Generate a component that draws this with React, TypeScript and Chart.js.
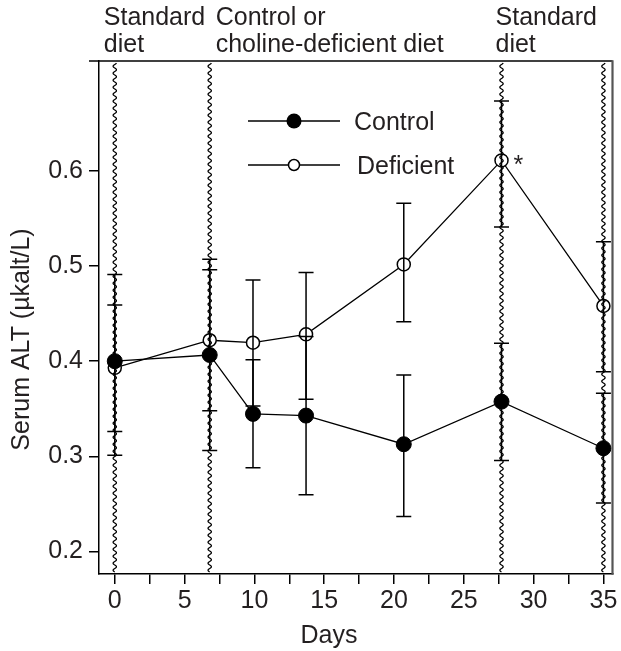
import React, { useEffect, useRef } from "react";
import { Chart, registerables } from "chart.js";

Chart.register(...registerables);

// ---- data ----
const days = [0, 6.8, 9.9, 13.7, 20.7, 27.7, 35];
const controlMean = [0.4, 0.4065, 0.3446, 0.3428, 0.3127, 0.3575, 0.3085];
const controlLow = [0.301, 0.306, 0.288, 0.2595, 0.2367, 0.2955, 0.2508];
const controlHigh = [0.491, 0.507, 0.4016, 0.426, 0.3855, 0.4188, 0.3663];
const deficientMean = [0.393, 0.422, 0.4194, 0.4282, 0.5017, 0.611, 0.458];
const deficientLow = [0.326, 0.348, 0.353, 0.36, 0.4415, 0.541, 0.389];
const deficientHigh = [0.459, 0.496, 0.4853, 0.4933, 0.566, 0.6735, 0.5255];
const dietChangeDays = [0, 6.8, 27.7, 35];
const phaseAnchorDays = [0, 6.8, 27.7];
const phaseLabels = [
  ["Standard", "diet"],
  ["Control or", "choline-deficient diet"],
  ["Standard", "diet"],
];
const significantIndex = [5];
const xTickValues = [0, 2.5, 5, 7.5, 10, 12.5, 15, 17.5, 20, 22.5, 25, 27.5, 30, 32.5, 35];
const yTickValues = [0.2, 0.3, 0.4, 0.5, 0.6];
const seriesNames = ["Control", "Deficient"];
const xTitle = "Days";
const yTitle = "Serum ALT (\u00b5kalt/L)";

const FONT = '"Liberation Sans", Arial, Helvetica, sans-serif';
const TEXT = "#231f20";

export default function App() {
  const ref = useRef<HTMLCanvasElement>(null);

  useEffect(() => {
    const canvas = ref.current;
    if (!canvas) return;

    const phaseOffsets = [-11, 6, -6];

    const decor = {
      id: "decor",
      afterDatasetsDraw(chart: any) {
        const ctx = chart.ctx as CanvasRenderingContext2D;
        const xs = chart.scales.x;
        const ys = chart.scales.y;
        const { left, right, top, bottom } = chart.chartArea;
        ctx.save();

        // error bars
        const drawBars = (lows: number[], highs: number[]) => {
          ctx.strokeStyle = "#000";
          ctx.lineWidth = 1.5;
          for (let i = 0; i < days.length; i++) {
            const x = xs.getPixelForValue(days[i]);
            const yl = ys.getPixelForValue(lows[i]);
            const yh = ys.getPixelForValue(highs[i]);
            ctx.beginPath();
            ctx.moveTo(x, yl);
            ctx.lineTo(x, yh);
            ctx.moveTo(x - 7.5, yl);
            ctx.lineTo(x + 7.5, yl);
            ctx.moveTo(x - 7.5, yh);
            ctx.lineTo(x + 7.5, yh);
            ctx.stroke();
          }
        };
        drawBars(controlLow, controlHigh);
        drawBars(deficientLow, deficientHigh);

        // wavy diet-change lines
        ctx.lineWidth = 1.2;
        ctx.strokeStyle = "#000";
        dietChangeDays.forEach((d) => {
          const x = xs.getPixelForValue(d);
          ctx.beginPath();
          let first = true;
          for (let y = top + 2; y <= bottom - 2; y += 0.5) {
            const dx = 1.7 * Math.sin(((y - top) / 7) * 2 * Math.PI);
            if (first) {
              ctx.moveTo(x + dx, y);
              first = false;
            } else ctx.lineTo(x + dx, y);
          }
          ctx.stroke();
        });

        // frame: top line (extends left like a tick) and grey right border
        ctx.strokeStyle = "#000";
        ctx.lineWidth = 1.5;
        ctx.beginPath();
        ctx.moveTo(left - 10, top);
        ctx.lineTo(right, top);
        ctx.stroke();
        ctx.strokeStyle = "#555";
        ctx.lineWidth = 2.2;
        ctx.beginPath();
        ctx.moveTo(right, top - 0.75);
        ctx.lineTo(right, bottom + 0.75);
        ctx.stroke();

        // phase labels
        ctx.fillStyle = TEXT;
        ctx.font = `25px ${FONT}`;
        ctx.textAlign = "left";
        ctx.textBaseline = "alphabetic";
        phaseLabels.forEach((lines, i) => {
          const x = xs.getPixelForValue(phaseAnchorDays[i]) + phaseOffsets[i];
          ctx.fillText(lines[0], x, top - 36);
          ctx.fillText(lines[1], x, top - 9);
        });

        // significance asterisk
        significantIndex.forEach((i) => {
          const x = xs.getPixelForValue(days[i]);
          const y = ys.getPixelForValue(deficientMean[i]);
          ctx.fillText("*", x + 12, y + 13);
        });

        // legend
        const legendX0 = left + 149;
        const legendX1 = left + 241;
        const legendMarkerX = left + 195;
        const legendYs = [top + 60, top + 104];
        ctx.strokeStyle = "#000";
        ctx.lineWidth = 1.3;
        legendYs.forEach((ly, i) => {
          ctx.beginPath();
          ctx.moveTo(legendX0, ly);
          ctx.lineTo(legendX1, ly);
          ctx.stroke();
          ctx.beginPath();
          if (i === 0) {
            ctx.arc(legendMarkerX, ly, 7.5, 0, Math.PI * 2);
            ctx.fillStyle = "#000";
            ctx.fill();
          } else {
            ctx.arc(legendMarkerX, ly, 5.5, 0, Math.PI * 2);
            ctx.fillStyle = "#fff";
            ctx.fill();
            ctx.lineWidth = 1.5;
            ctx.stroke();
          }
          ctx.fillStyle = TEXT;
          ctx.fillText(seriesNames[i], left + 255 + i * 3, ly + 9);
        });

        // axis titles
        ctx.fillStyle = TEXT;
        ctx.textAlign = "center";
        ctx.textBaseline = "alphabetic";
        ctx.fillText(xTitle, left + 230, bottom + 69);
        ctx.save();
        ctx.translate(22, (top + bottom) / 2 + 22);
        ctx.rotate(-Math.PI / 2);
        ctx.textBaseline = "middle";
        ctx.fillText(yTitle, 0, 0);
        ctx.restore();

        ctx.restore();
      },
    };

    const chart = new Chart(canvas, {
      type: "line",
      data: {
        datasets: [
          {
            label: seriesNames[0],
            data: days.map((d, i) => ({ x: d, y: controlMean[i] })),
            borderColor: "#000",
            borderWidth: 1.3,
            pointRadius: 7.5,
            pointBackgroundColor: "#000",
            pointBorderColor: "#000",
            pointBorderWidth: 1,
            tension: 0,
            fill: false,
          },
          {
            label: seriesNames[1],
            data: days.map((d, i) => ({ x: d, y: deficientMean[i] })),
            borderColor: "#000",
            borderWidth: 1.3,
            pointRadius: 6.5,
            pointBackgroundColor: "#fff",
            pointBorderColor: "#000",
            pointBorderWidth: 1.5,
            tension: 0,
            fill: false,
          },
        ],
      },
      options: {
        responsive: false,
        animation: false,
        layout: { padding: { top: 61, right: 8, left: 0, bottom: 0 } },
        plugins: { legend: { display: false }, tooltip: { enabled: false } },
        scales: {
          x: {
            type: "linear",
            min: -1.13,
            max: 35.65,
            afterFit: (s: any) => {
              s.height = 77;
            },
            afterBuildTicks: (s: any) => {
              s.ticks = xTickValues.map((v) => ({ value: v }));
            },
            ticks: {
              autoSkip: false,
              maxRotation: 0,
              minRotation: 0,
              padding: 2,
              color: TEXT,
              font: { family: FONT, size: 25 },
              callback: (v: any) => (Number(v) % 5 === 0 ? String(v) : ""),
            },
            grid: {
              drawOnChartArea: false,
              drawTicks: true,
              tickLength: 10,
              color: "#000",
              lineWidth: 1.5,
            },
            border: { display: true, color: "#000", width: 1.5 },
          },
          y: {
            type: "linear",
            min: 0.1763,
            max: 0.7155,
            afterFit: (s: any) => {
              s.width = 99;
            },
            afterBuildTicks: (s: any) => {
              s.ticks = yTickValues.map((v) => ({ value: v }));
            },
            ticks: {
              autoSkip: false,
              padding: 6,
              color: TEXT,
              font: { family: FONT, size: 25 },
              callback: (v: any) => Number(v).toFixed(1),
            },
            grid: {
              drawOnChartArea: false,
              drawTicks: true,
              tickLength: 10,
              color: "#000",
              lineWidth: 1.5,
            },
            border: { display: true, color: "#000", width: 1.5 },
          },
        },
      },
      plugins: [decor],
    });

    return () => chart.destroy();
  }, []);

  return (
    <div style={{ position: "absolute", left: 0, top: 0, width: 621, height: 651, background: "#fff" }}>
      <canvas ref={ref} width={621} height={651} />
    </div>
  );
}
